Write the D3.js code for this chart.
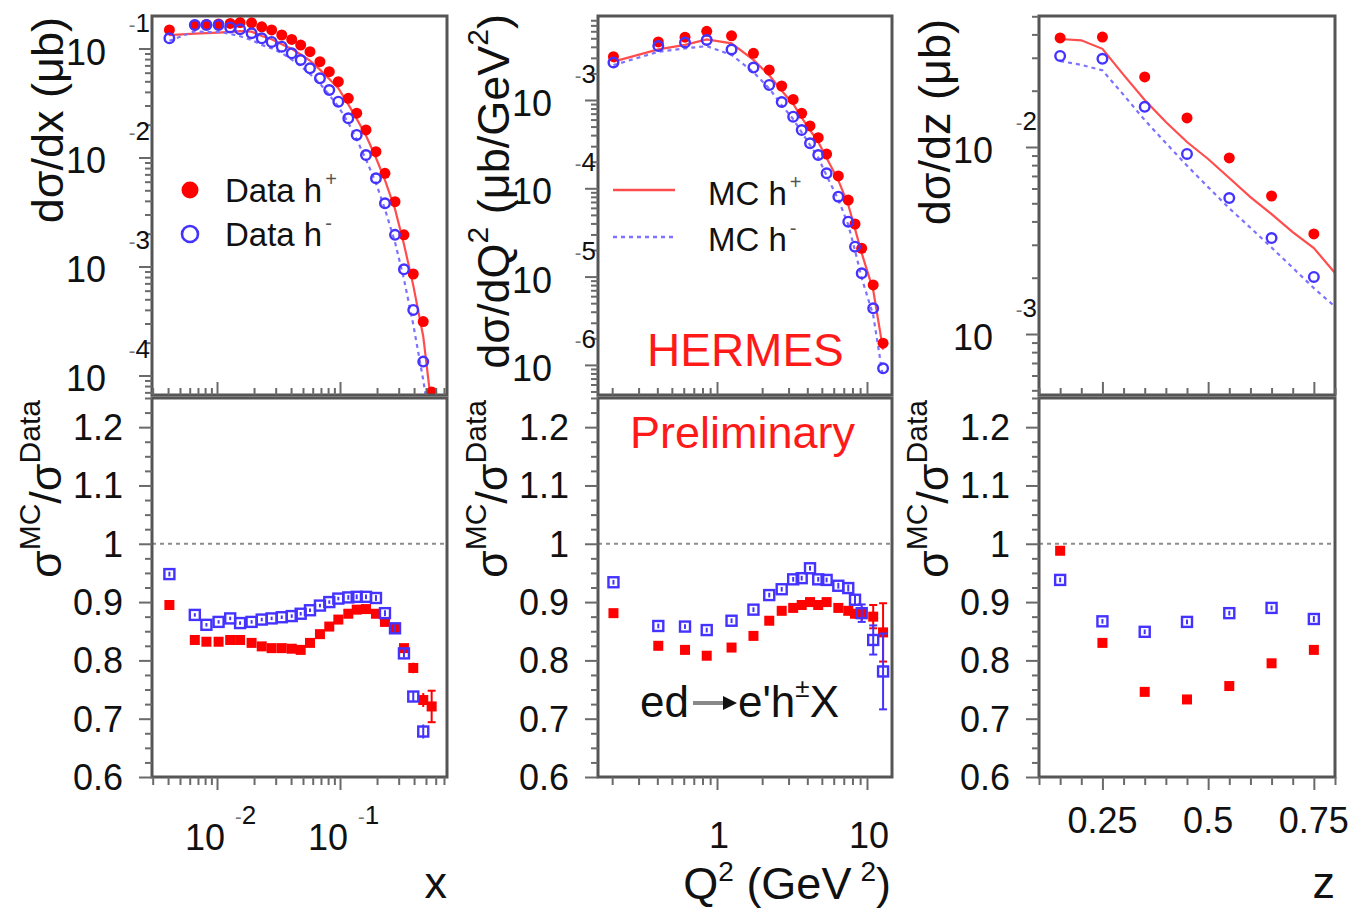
<!DOCTYPE html>
<html>
<head>
<meta charset="utf-8">
<script src="https://cdn.jsdelivr.net/npm/d3@7"></script>
<style>
  html, body { margin: 0; padding: 0; background: #fff; }
  svg { display: block; font-family: "Liberation Sans", Arial, Helvetica, sans-serif; }
</style>
</head>
<body>
<script>
// ---------- x (Bjorken x) distributions ----------
const xBins = [0.0041, 0.0066, 0.0082, 0.0103, 0.0128, 0.0154, 0.0191, 0.0231, 0.0278, 0.0336,
  0.0405, 0.0479, 0.0570, 0.0687, 0.0818, 0.0969, 0.1168, 0.1367, 0.1626, 0.196,
  0.232, 0.280, 0.331, 0.394, 0.475, 0.556];
const xDataPos = [0.148, 0.164, 0.166, 0.168, 0.170, 0.173, 0.172, 0.158, 0.148, 0.133,
  0.121, 0.1076, 0.0935, 0.0757, 0.0613, 0.0496, 0.0349, 0.0255, 0.0179, 0.0113,
  0.00716, 0.00393, 0.00195, 0.000853, 0.000312, 0.0000706];
const xDataNeg = [0.124, 0.164, 0.164, 0.164, 0.156, 0.150, 0.138, 0.124, 0.115, 0.104,
  0.0903, 0.0784, 0.0658, 0.0533, 0.0416, 0.0325, 0.0229, 0.0161, 0.01054, 0.00644,
  0.00380, 0.00195, 0.000942, 0.000399, 0.000134, null];
const xMcPos = [0.1325, 0.1369, 0.1381, 0.1398, 0.1420, 0.1445, 0.1428, 0.1302, 0.1215, 0.1092,
  0.0992, 0.0880, 0.0776, 0.0640, 0.0526, 0.0432, 0.0307, 0.0226, 0.0159, 0.00994,
  0.00620, 0.00336, 0.00160, 0.000671, 0.000228, 0.0000509];
const xMcNeg = [0.1176, 0.1440, 0.1412, 0.1420, 0.1360, 0.1296, 0.1195, 0.1079, 0.1003, 0.0909,
  0.0791, 0.0690, 0.0583, 0.0477, 0.0374, 0.0294, 0.0208, 0.01463, 0.00958, 0.00584,
  0.00335, 0.00167, 0.000765, 0.000294, 0.0000908, 0.00003];
const xRatioPos = [0.895, 0.835, 0.832, 0.832, 0.835, 0.835, 0.830, 0.824, 0.821, 0.821,
  0.820, 0.818, 0.830, 0.845, 0.858, 0.870, 0.880, 0.887, 0.888, 0.880,
  0.866, 0.855, 0.821, 0.787, 0.732, 0.721];
const xRatioNeg = [0.948, 0.878, 0.861, 0.866, 0.872, 0.864, 0.866, 0.870, 0.872, 0.874,
  0.876, 0.880, 0.886, 0.894, 0.900, 0.906, 0.908, 0.909, 0.909, 0.907,
  0.881, 0.855, 0.812, 0.738, 0.678, null];
const xRatioPosErr = [0.004, 0.003, 0.003, 0.003, 0.003, 0.003, 0.003, 0.003, 0.003, 0.003,
  0.003, 0.003, 0.003, 0.003, 0.003, 0.003, 0.004, 0.004, 0.004, 0.005,
  0.005, 0.006, 0.007, 0.009, 0.012, 0.027];
const xRatioNegErr = [0.004, 0.003, 0.003, 0.003, 0.003, 0.003, 0.003, 0.003, 0.003, 0.003,
  0.003, 0.003, 0.003, 0.003, 0.003, 0.003, 0.004, 0.004, 0.004, 0.005,
  0.005, 0.006, 0.007, 0.009, 0.012, null];

// ---------- Q^2 distributions ----------
const q2Bins = [0.204, 0.406, 0.612, 0.854, 1.25, 1.75, 2.23, 2.70, 3.22, 3.67,
  4.17, 4.73, 5.38, 6.44, 7.50, 8.32, 9.22, 11.0, 12.8];
const q2DataPos = [0.00309, 0.00454, 0.00514, 0.00600, 0.00533, 0.00338, 0.00219, 0.00144, 0.001014, 0.000706,
  0.000508, 0.000374, 0.000244, 0.000138, 7.36e-5, 3.94e-5, 2.09e-5, 8.04e-6, 1.76e-6];
const q2DataNeg = [0.00266, 0.00409, 0.00448, 0.00478, 0.00373, 0.00233, 0.00148, 0.000949, 0.000647, 0.000457,
  0.000323, 0.000238, 0.000148, 8.04e-5, 4.19e-5, 2.18e-5, 1.09e-5, 4.37e-6, 9.14e-7];
const q2McPos = [0.002722, 0.003746, 0.004205, 0.004848, 0.004381, 0.002846, 0.001901, 0.001274, 0.000902, 0.000632,
  0.000457, 0.000335, 0.000220, 0.000123, 6.51e-5, 3.47e-5, 1.84e-5, 7.04e-6, 1.49e-6];
const q2McNeg = [0.002484, 0.003513, 0.003844, 0.004073, 0.003238, 0.002067, 0.001350, 0.000875, 0.000608, 0.000430,
  0.000309, 0.000223, 0.000139, 7.46e-5, 3.87e-5, 1.97e-5, 9.60e-6, 3.65e-6, 7.14e-7];
const q2RatioPos = [0.881, 0.825, 0.818, 0.808, 0.822, 0.842, 0.868, 0.885, 0.890, 0.895,
  0.900, 0.895, 0.900, 0.890, 0.885, 0.880, 0.880, 0.875, 0.848];
const q2RatioNeg = [0.934, 0.859, 0.858, 0.852, 0.868, 0.887, 0.912, 0.922, 0.939, 0.941,
  0.958, 0.939, 0.938, 0.928, 0.924, 0.904, 0.881, 0.835, 0.781];
const q2RatioPosErr = [0.004, 0.004, 0.004, 0.004, 0.004, 0.004, 0.004, 0.004, 0.004, 0.004,
  0.004, 0.004, 0.004, 0.005, 0.006, 0.008, 0.012, 0.02, 0.05];
const q2RatioNegErr = [0.004, 0.004, 0.004, 0.004, 0.004, 0.004, 0.004, 0.004, 0.004, 0.004,
  0.004, 0.004, 0.004, 0.005, 0.006, 0.01, 0.015, 0.025, 0.065];

// ---------- z distributions ----------
const zBins = [0.15, 0.25, 0.35, 0.45, 0.55, 0.65, 0.75];
const zDataPos = [0.0383, 0.0387, 0.0237, 0.0143, 0.00874, 0.00547, 0.00343];
const zDataNeg = [0.0307, 0.0296, 0.0164, 0.00918, 0.00533, 0.00326, 0.00202];
const zMcGrid = [0.15, 0.20, 0.25, 0.30, 0.35, 0.40, 0.45, 0.50, 0.55, 0.60, 0.65, 0.70, 0.75, 0.80];
const zMcPos = [0.0378, 0.0372, 0.0335, 0.0243, 0.01784, 0.01360, 0.01063, 0.00863, 0.00683, 0.00540,
  0.00438, 0.00351, 0.00288, 0.00212];
const zMcNeg = [0.0288, 0.0275, 0.0257, 0.0190, 0.01392, 0.01050, 0.00795, 0.00610, 0.00470, 0.00370,
  0.00290, 0.00226, 0.00176, 0.00140];
const zRatioPos = [0.988, 0.830, 0.746, 0.733, 0.756, 0.795, 0.818];
const zRatioNeg = [0.938, 0.867, 0.849, 0.866, 0.881, 0.890, 0.871];
const zRatioErr = [0.004, 0.004, 0.004, 0.004, 0.004, 0.004, 0.005];

// ---------- axis tick labels ----------
const yExpTop = [[-1, -2, -3, -4], [-3, -4, -5, -6], [-2, -3]];
const xExpLabels = [-2, -1];
const q2TickValues = [1, 10];
const q2TickLabels = ["1", "10"];
const zTickValues = [0.25, 0.5, 0.75];
const zTickLabels = ["0.25", "0.5", "0.75"];
const ratioTickValues = [0.6, 0.7, 0.8, 0.9, 1.0, 1.1, 1.2];
const ratioTickLabels = ["0.6", "0.7", "0.8", "0.9", "1", "1.1", "1.2"];

// ---------- styling ----------
const RED = "#ff0000";
const BLUE = "#4433ff";
const RED_LINE = "#ff4d4d";
const BLUE_LINE = "#7d72ff";
const FRAME = "#555";
const TICK = "#6a6a6a";

const svg = d3.select("body").append("svg").attr("width", 1354).attr("height", 909);

const cols = [{ l: 152, r: 447 }, { l: 598, r: 892 }, { l: 1039, r: 1335 }];
const topRow = { t: 16, b: 395 };
const botRow = { t: 398, b: 777 };

const xScales = [
  d3.scaleLog().domain([0.002961, 0.741]).range([cols[0].l, cols[0].r]),
  d3.scaleLog().domain([0.1609, 14.68]).range([cols[1].l, cols[1].r]),
  d3.scaleLinear().domain([0.1, 0.8]).range([cols[2].l, cols[2].r])
];
const yTop = [
  d3.scaleLog().domain([6.62e-5, 0.1987]).range([topRow.b, topRow.t]),
  d3.scaleLog().domain([4.56e-7, 0.008938]).range([topRow.b, topRow.t]),
  d3.scaleLog().domain([4.72e-4, 0.05017]).range([topRow.b, topRow.t])
];
const yRatio = d3.scaleLinear().domain([0.6, 1.25]).range([botRow.b, botRow.t]);

// log-axis tick positions (decades + 2..9 subdivisions) inside a domain
function logTicks(scale) {
  const [a, b] = scale.domain();
  const major = [], minor = [];
  for (let e = Math.floor(Math.log10(a)); e <= Math.ceil(Math.log10(b)); e++) {
    for (let m = 1; m <= 9; m++) {
      const v = m * Math.pow(10, e);
      if (v >= a * 0.9999 && v <= b * 1.0001) (m === 1 ? major : minor).push(v);
    }
  }
  return { major, minor };
}
function linTicks(scale, step, majorStep) {
  const [a, b] = scale.domain();
  const major = [], minor = [];
  const n = Math.round((b - a) / step);
  for (let i = 0; i <= n; i++) {
    const v = +(a + i * step).toFixed(6);
    const k = v / majorStep;
    (Math.abs(k - Math.round(k)) < 1e-6 ? major : minor).push(v);
  }
  return { major, minor };
}

function drawAxisTicks(axisFactory, scale, ticks, transform, majorLen, minorLen) {
  [[ticks.minor, minorLen], [ticks.major, majorLen]].forEach(([vals, len]) => {
    const g = svg.append("g").attr("transform", transform)
      .call(axisFactory(scale).tickValues(vals).tickSize(len).tickFormat(""));
    g.select(".domain").remove();
    g.selectAll(".tick line").attr("stroke", TICK).attr("stroke-width", 2);
  });
}

let clipId = 0;
function makeClip(c, row) {
  const id = "clip" + (clipId++);
  svg.append("clipPath").attr("id", id).append("rect")
    .attr("x", c.l).attr("y", row.t).attr("width", c.r - c.l).attr("height", row.b - row.t);
  return svg.append("g").attr("clip-path", `url(#${id})`);
}

function frame(c, row) {
  svg.append("rect").attr("x", c.l).attr("y", row.t)
    .attr("width", c.r - c.l).attr("height", row.b - row.t)
    .attr("fill", "none").attr("stroke", FRAME).attr("stroke-width", 3);
}

function zipPts(xs, ys) {
  return xs.map((x, i) => [x, ys[i]]).filter(d => d[1] != null);
}

// ---------- upper (cross-section) panels ----------
function topPanel(i, bins, dPos, dNeg, mcX, mcPos, mcNeg) {
  const xs = xScales[i], ys = yTop[i], c = cols[i];
  const g = makeClip(c, topRow);
  const line = d3.line().x(d => xs(d[0])).y(d => ys(d[1]));
  g.append("path").datum(zipPts(mcX, mcPos)).attr("d", line)
    .attr("fill", "none").attr("stroke", RED_LINE).attr("stroke-width", 2.2);
  g.append("path").datum(zipPts(mcX, mcNeg)).attr("d", line)
    .attr("fill", "none").attr("stroke", BLUE_LINE).attr("stroke-width", 2.2)
    .attr("stroke-dasharray", "4,4");
  g.selectAll(null).data(zipPts(bins, dPos)).enter().append("circle")
    .attr("cx", d => xs(d[0])).attr("cy", d => ys(d[1])).attr("r", 5.5).attr("fill", RED);
  g.selectAll(null).data(zipPts(bins, dNeg)).enter().append("circle")
    .attr("cx", d => xs(d[0])).attr("cy", d => ys(d[1])).attr("r", 4.8)
    .attr("fill", "none").attr("stroke", BLUE).attr("stroke-width", 2.4);
  frame(c, topRow);

  // y axis: log ticks outside on the left
  drawAxisTicks(d3.axisLeft, ys, logTicks(ys), `translate(${c.l},0)`, 13, 7);
  // x axis: ticks pointing up into the panel
  const xt = (i === 2) ? linTicks(xs, 0.05, 0.25) : logTicks(xs);
  drawAxisTicks(d3.axisTop, xs, xt, `translate(0,${topRow.b})`, 13, 7);

  // y labels  10^{-n}
  yExpTop[i].forEach(e => {
    const ty = ys(Math.pow(10, e));
    svg.append("text").attr("x", c.l - 46).attr("y", ty + 16)
      .attr("text-anchor", "end").attr("font-size", 36).attr("fill", "#111").text("10");
    const ex = svg.append("text").attr("x", c.l - 2).attr("y", ty - 17)
      .attr("text-anchor", "end").attr("font-size", 26).attr("fill", "#111");
    ex.append("tspan").attr("fill", "#777").attr("font-size", 20).text(e < 0 ? "-" : "");
    ex.append("tspan").text(Math.abs(e));
  });
}

// ---------- lower (MC / data ratio) panels ----------
function ratioPanel(i, bins, rPos, rNeg, ePos, eNeg) {
  const xs = xScales[i], c = cols[i];
  const g = makeClip(c, botRow);
  g.append("line").attr("x1", c.l).attr("x2", c.r)
    .attr("y1", yRatio(1)).attr("y2", yRatio(1))
    .attr("stroke", "#8c8c8c").attr("stroke-width", 2).attr("stroke-dasharray", "4,4");

  function errBars(vals, errs, color) {
    const pts = bins.map((b, k) => ({ x: b, v: vals[k], e: errs[k] })).filter(d => d.v != null);
    const eg = g.append("g").attr("stroke", color).attr("stroke-width", 2);
    pts.forEach(d => {
      const px = xs(d.x);
      eg.append("line").attr("x1", px).attr("x2", px)
        .attr("y1", yRatio(d.v - d.e)).attr("y2", yRatio(d.v + d.e));
      if (d.e >= 0.015) {
        [d.v - d.e, d.v + d.e].forEach(v => eg.append("line")
          .attr("x1", px - 4).attr("x2", px + 4).attr("y1", yRatio(v)).attr("y2", yRatio(v)));
      }
    });
    return pts;
  }
  const pp = errBars(rPos, ePos, RED);
  g.selectAll(null).data(pp).enter().append("rect")
    .attr("x", d => xs(d.x) - 5).attr("y", d => yRatio(d.v) - 5)
    .attr("width", 10).attr("height", 10).attr("fill", RED);
  const pn = errBars(rNeg, eNeg, BLUE);
  g.selectAll(null).data(pn).enter().append("rect")
    .attr("x", d => xs(d.x) - 5).attr("y", d => yRatio(d.v) - 5)
    .attr("width", 10).attr("height", 10)
    .attr("fill", "none").attr("stroke", BLUE).attr("stroke-width", 2.4);
  frame(c, botRow);

  drawAxisTicks(d3.axisLeft, yRatio, linTicks(yRatio, 0.025, 0.1), `translate(${c.l},0)`, 13, 7);
  const xt = (i === 2) ? linTicks(xs, 0.05, 0.25) : logTicks(xs);
  drawAxisTicks(d3.axisBottom, xs, xt, `translate(0,${botRow.b})`, 13, 8);

  ratioTickValues.forEach((v, k) => {
    svg.append("text").attr("x", c.l - 29).attr("y", yRatio(v) + 13)
      .attr("text-anchor", "end").attr("font-size", 36).attr("fill", "#111")
      .text(ratioTickLabels[k]);
  });
}

topPanel(0, xBins, xDataPos, xDataNeg, xBins, xMcPos, xMcNeg);
topPanel(1, q2Bins, q2DataPos, q2DataNeg, q2Bins, q2McPos, q2McNeg);
topPanel(2, zBins, zDataPos, zDataNeg, zMcGrid, zMcPos, zMcNeg);
ratioPanel(0, xBins, xRatioPos, xRatioNeg, xRatioPosErr, xRatioNegErr);
ratioPanel(1, q2Bins, q2RatioPos, q2RatioNeg, q2RatioPosErr, q2RatioNegErr);
ratioPanel(2, zBins, zRatioPos, zRatioNeg, zRatioErr, zRatioErr);

// ---------- bottom x-axis labels ----------
xExpLabels.forEach(e => {
  const tx = xScales[0](Math.pow(10, e));
  svg.append("text").attr("x", tx + 8).attr("y", 850).attr("text-anchor", "end")
    .attr("font-size", 36).attr("fill", "#111").text("10");
  const ex = svg.append("text").attr("x", tx + 18).attr("y", 824)
    .attr("font-size", 26).attr("fill", "#111");
  ex.append("tspan").attr("fill", "#777").attr("font-size", 20).text("-");
  ex.append("tspan").text(Math.abs(e));
});
q2TickValues.forEach((v, k) => {
  svg.append("text").attr("x", xScales[1](v) + 2).attr("y", 848).attr("text-anchor", "middle")
    .attr("font-size", 36).attr("fill", "#111").text(q2TickLabels[k]);
});
zTickValues.forEach((v, k) => {
  svg.append("text").attr("x", xScales[2](v)).attr("y", 833).attr("text-anchor", "middle")
    .attr("font-size", 36).attr("fill", "#111").text(zTickLabels[k]);
});

// ---------- axis titles ----------
const TITLE = 45, SUP = 30;
svg.append("text").attr("x", cols[0].r).attr("y", 898).attr("text-anchor", "end")
  .attr("font-size", TITLE).attr("fill", "#111").text("x");
svg.append("text").attr("x", cols[2].r).attr("y", 898).attr("text-anchor", "end")
  .attr("font-size", TITLE).attr("fill", "#111").text("z");
{
  const t = svg.append("text").attr("x", cols[1].r - 1).attr("y", 899).attr("text-anchor", "end")
    .attr("font-size", TITLE).attr("fill", "#111");
  t.append("tspan").text("Q");
  t.append("tspan").attr("font-size", 28).attr("dy", -18).text("2");
  t.append("tspan").attr("dy", 18).text(" (GeV\u2009");
  t.append("tspan").attr("font-size", 28).attr("dy", -18).text("2");
  t.append("tspan").attr("dy", 18).text(")");
}

function yTitle(x, yEnd, parts) {
  const t = svg.append("text").attr("transform", `translate(${x},${yEnd}) rotate(-90)`)
    .attr("text-anchor", "end").attr("font-size", TITLE).attr("fill", "#111");
  let shifted = false;
  parts.forEach(p => {
    const s = t.append("tspan").text(p.t);
    if (p.sup) { s.attr("font-size", SUP).attr("dy", -21); shifted = true; }
    else if (shifted) { s.attr("dy", 21); shifted = false; }
  });
}
yTitle(63, 17, [{ t: "d\u03C3/dx (\u03BCb)" }]);
yTitle(509, 14, [{ t: "d\u03C3/dQ" }, { t: "2", sup: true }, { t: " (\u03BCb/GeV" }, { t: "2", sup: true }, { t: ")" }]);
yTitle(950, 19, [{ t: "d\u03C3/dz (\u03BCb)" }]);
[61, 507, 948].forEach(x => {
  yTitle(x, 400, [{ t: "\u03C3" }, { t: "MC", sup: true }, { t: "/\u03C3" }, { t: "Data", sup: true }]);
});

// ---------- legends ----------
function legendText(x, y, main, sup) {
  const t = svg.append("text").attr("x", x).attr("y", y).attr("font-size", 33).attr("fill", "#111");
  t.append("tspan").text(main);
  t.append("tspan").attr("font-size", 20).attr("fill", "#555").attr("dx", 3).attr("dy", -16).text(sup);
}
svg.append("circle").attr("cx", 190).attr("cy", 190).attr("r", 8.5).attr("fill", RED);
legendText(225, 202, "Data h", "+");
svg.append("circle").attr("cx", 190).attr("cy", 234).attr("r", 8)
  .attr("fill", "none").attr("stroke", BLUE).attr("stroke-width", 2.6);
legendText(225, 246, "Data h", "-");

svg.append("line").attr("x1", 613).attr("x2", 675).attr("y1", 190).attr("y2", 190)
  .attr("stroke", RED_LINE).attr("stroke-width", 2.4);
legendText(708, 205, "MC h", "+");
svg.append("line").attr("x1", 613).attr("x2", 675).attr("y1", 237).attr("y2", 237)
  .attr("stroke", BLUE_LINE).attr("stroke-width", 2.4).attr("stroke-dasharray", "4,4");
legendText(708, 251, "MC h", "-");

// ---------- annotations ----------
svg.append("text").attr("x", 647).attr("y", 366).attr("font-size", 46)
  .attr("fill", "#ff1a1a").text("HERMES");
svg.append("text").attr("x", 630).attr("y", 448).attr("font-size", 45)
  .attr("fill", "#ff1a1a").text("Preliminary");

svg.append("text").attr("x", 640).attr("y", 717).attr("font-size", 44).attr("fill", "#111").text("ed");
svg.append("line").attr("x1", 693).attr("x2", 726).attr("y1", 703).attr("y2", 703)
  .attr("stroke", "#888").attr("stroke-width", 4);
svg.append("path").attr("d", "M723,696 L737,703 L723,710 Z").attr("fill", "#111");
{
  const t = svg.append("text").attr("x", 738).attr("y", 717).attr("font-size", 44).attr("fill", "#111");
  t.append("tspan").text("e'h");
  t.append("tspan").attr("font-size", 26).attr("dy", -20).text("\u00B1");
  t.append("tspan").attr("dy", 20).text("X");
}
</script>
</body>
</html>
